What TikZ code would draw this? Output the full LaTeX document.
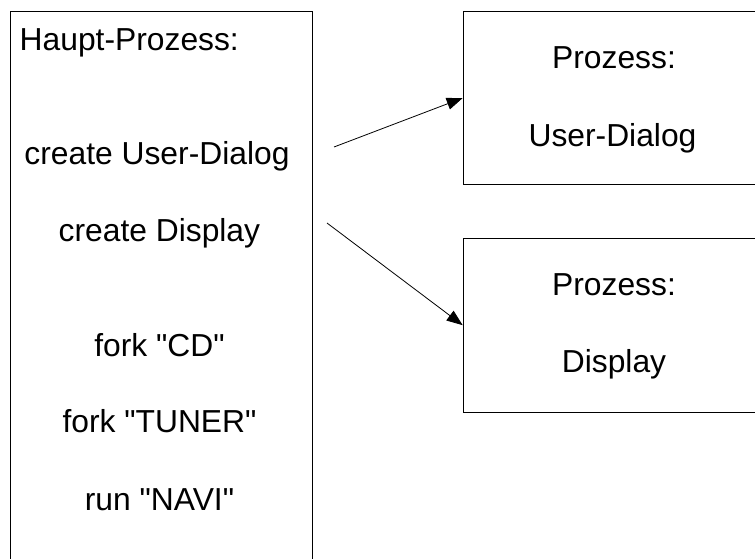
\documentclass[tikz,border=0pt]{standalone}
\usepackage{fontspec}
\setmainfont{Liberation Sans}[Ligatures=TeXOff]
\usetikzlibrary{arrows.meta}

\tikzset{
  procbox/.style={draw=black, line width=1pt, inner sep=0pt},
  label/.style={font=\fontsize{31.8}{36}\selectfont, inner sep=0pt, anchor=base},
  flow/.style={line width=0.8pt, -{Triangle[length=16pt,width=12pt]}}
}

\begin{document}
\begin{tikzpicture}[x=1pt,y=-1pt]
  \useasboundingbox (0,0) rectangle (755,558);
  \clip (0,0) rectangle (755,558);

  % main process box (runs past the lower edge)
  \node[procbox, minimum width=302pt, minimum height=570pt, anchor=north west]
    (main) at (9.5,11) {};
  \node[label, anchor=base west] (mtitle) at (19.5,50) {Haupt-Prozess:};
  \node[label] (cud)  at (157,164.3) {create User-Dialog};
  \node[label] (cdsp) at (159.4,241)  {create Display};
  \node[label] (fcd)  at (159.5,356)  {fork "CD"};
  \node[label] (ftun) at (159.5,432.5){fork "TUNER"};
  \node[label] (rnav) at (159.5,510)  {run "NAVI"};

  % child process boxes (run past the right edge)
  \node[procbox, minimum width=302pt, minimum height=173pt, anchor=north west]
    (pud) at (462.7,11) {};
  \node[label] (pudt) at (614,68.3) {Prozess:};
  \node[label] (pudn) at (612.5,146) {User-Dialog};

  \node[procbox, minimum width=302pt, minimum height=174pt, anchor=north west]
    (pdsp) at (462.7,237.7) {};
  \node[label] (pdspt) at (614,295) {Prozess:};
  \node[label] (pdspn) at (614,372.7) {Display};

  % process creation arrows
  \coordinate (sud) at (334,147);
  \coordinate (sdsp) at (327,223);
  \draw[flow] (sud) -- (pud.west);
  \draw[flow] (sdsp) -- (pdsp.west);
\end{tikzpicture}
\end{document}
